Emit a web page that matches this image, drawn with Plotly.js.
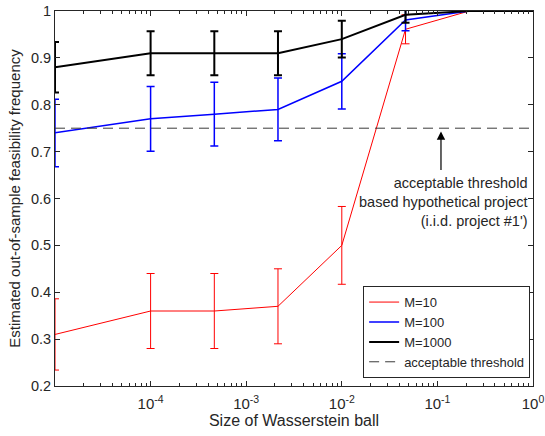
<!DOCTYPE html>
<html>
<head>
<meta charset="utf-8">
<script src="https://cdn.plot.ly/plotly-3.0.1.min.js"></script>
<style>html,body{margin:0;padding:0;background:#fff;}#chart{width:545px;height:436px;}</style>
</head>
<body>
<div id="chart"></div>
<script>
// Data
var ballSize = [1e-5, 1e-4, 4.64e-4, 2.15e-3, 1e-2, 4.64e-2, 2.15e-1, 1];
var freqM10 = [0.31, 0.36, 0.36, 0.37, 0.50, 0.961, 1.0, 1.0];
var errM10 = [0.076, 0.08, 0.08, 0.08, 0.083, 0.031, 0, 0];
var freqM100 = [0.74, 0.77, 0.78, 0.79, 0.85, 0.981, 1.0, 1.0];
var errM100 = [0.072, 0.069, 0.068, 0.067, 0.059, 0.023, 0, 0];
var freqM1000 = [0.88, 0.91, 0.91, 0.91, 0.94, 0.992, 1.0, 1.0];
var errM1000 = [0.054, 0.047, 0.047, 0.047, 0.039, 0.017, 0, 0];
var thresholdX = [1e-5, 1];
var thresholdY = [0.75, 0.75];
var seriesNames = ['M=10', 'M=100', 'M=1000', 'acceptable threshold'];
var xTickVals = [1e-4, 1e-3, 1e-2, 1e-1, 1];
var xTickText = ['10<sup>-4</sup>', '10<sup>-3</sup>', '10<sup>-2</sup>', '10<sup>-1</sup>', '10<sup>0</sup>'];
var yTickVals = [0.2, 0.3, 0.4, 0.5, 0.6, 0.7, 0.8, 0.9, 1];
var yTickText = ['0.2', '0.3', '0.4', '0.5', '0.6', '0.7', '0.8', '0.9', '1'];
var annotationText = 'acceptable threshold<br>based hypothetical project<br>(i.i.d. project #1\')';

var minorVals = [];
for (var k = -5; k < 0; k++) {
  for (var m = 2; m <= 9; m++) minorVals.push(m * Math.pow(10, k));
}

var FONT = 'Liberation Sans, Arial, Helvetica, sans-serif';
var AX = '#262626';

function series(y, err, name, color, w) {
  return {
    x: ballSize, y: y, name: name, type: 'scatter', mode: 'lines',
    line: {color: color, width: w},
    error_y: {type: 'data', array: err, visible: true, color: color, thickness: w, width: 4},
    cliponaxis: true
  };
}

var traces = [
  series(freqM10, errM10, seriesNames[0], '#ff0000', 1),
  series(freqM100, errM100, seriesNames[1], '#0000ff', 1.5),
  series(freqM1000, errM1000, seriesNames[2], '#000000', 2),
  {x: thresholdX, y: thresholdY, name: seriesNames[3], type: 'scatter', mode: 'lines',
   line: {color: '#3a3a3a', width: 1, dash: '10px,6px'}}
];

var layout = {
  width: 545, height: 436,
  margin: {l: 55, r: 12, t: 11, b: 50},
  paper_bgcolor: '#fff', plot_bgcolor: '#fff',
  font: {family: FONT, color: AX, size: 14},
  showlegend: true,
  legend: {
    x: 0.994, y: 0.021, xanchor: 'right', yanchor: 'bottom',
    bgcolor: '#fff', bordercolor: AX, borderwidth: 1,
    font: {family: FONT, size: 13, color: AX},
    tracegroupgap: 0, itemwidth: 30
  },
  xaxis: {
    type: 'log', range: [-5, 0],
    tickmode: 'array', tickvals: xTickVals, ticktext: xTickText,
    ticks: 'inside', ticklen: 5, tickcolor: AX, tickwidth: 1,
    showline: true, linecolor: AX, linewidth: 1, mirror: 'ticks',
    showgrid: false, zeroline: false, ticklabelstandoff: 4,
    tickfont: {family: FONT, size: 15, color: AX},
    minor: {tickmode: 'array', tickvals: minorVals, ticks: 'inside', ticklen: 3, tickcolor: AX, showgrid: false},
    title: {text: 'Size of Wasserstein ball', font: {family: FONT, size: 16, color: AX}, standoff: 3}
  },
  yaxis: {
    range: [0.2, 1],
    tickmode: 'array', tickvals: yTickVals, ticktext: yTickText,
    ticks: 'inside', ticklen: 5, tickcolor: AX, tickwidth: 1,
    showline: true, linecolor: AX, linewidth: 1, mirror: 'ticks',
    showgrid: false, zeroline: false,
    tickfont: {family: FONT, size: 14.5, color: AX},
    title: {text: 'Estimated out-of-sample feasibility frequency', font: {family: FONT, size: 15, color: AX}, standoff: 6}
  },
  annotations: [
    {
      xref: 'paper', yref: 'y', x: 0.992, y: 0.655, xanchor: 'right', yanchor: 'top',
      text: annotationText, align: 'right', showarrow: false,
      font: {family: FONT, size: 14.5, color: AX}
    },
    {
      xref: 'x', yref: 'y', x: Math.log10(0.109), y: 0.743,
      text: '', showarrow: true, ax: 0, ay: 40,
      arrowhead: 2, arrowsize: 1.4, arrowwidth: 1.2, arrowcolor: '#000'
    }
  ]
};

Plotly.newPlot('chart', traces, layout, {displayModeBar: false, staticPlot: true});
</script>
</body>
</html>
